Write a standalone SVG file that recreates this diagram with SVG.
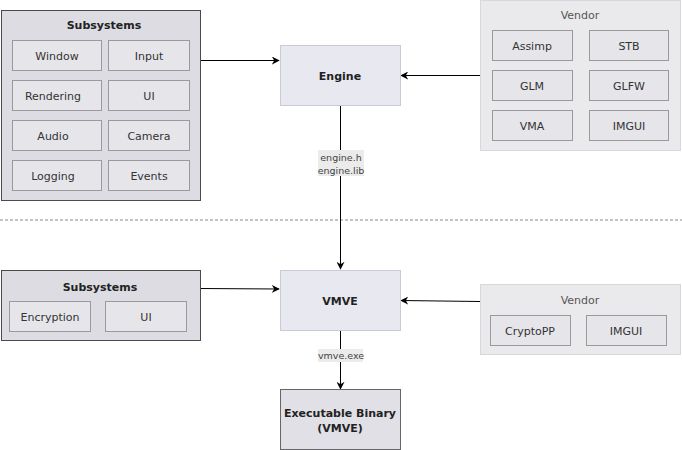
<svg xmlns="http://www.w3.org/2000/svg" width="682" height="450" viewBox="0 0 682 450">
<defs>
<marker id="arr" viewBox="0 0 10 10" refX="9" refY="5" markerWidth="8" markerHeight="8" markerUnits="userSpaceOnUse" orient="auto">
<path d="M0,0 L10,5 L0,10 L3,5 Z" fill="#000"/>
</marker>
<style>
text{font-family:"DejaVu Sans","Liberation Sans",sans-serif;text-anchor:middle;dominant-baseline:central;}
.cont{fill:#dcdce2;stroke:#4a4a4a;stroke-width:1;}
.vend{fill:#eaeaec;stroke:#d8d8dc;stroke-width:1;}
.item{fill:#e6e6ea;stroke:#9a9a9e;stroke-width:1;}
.main{fill:#e8e8f0;stroke:#cacad6;stroke-width:1;}
.exe{fill:#e0e0e6;stroke:#666;stroke-width:1;}
.t{font-size:11px;fill:#333;}
.tg{font-size:11px;fill:#555;}
.b{font-size:11px;font-weight:bold;fill:#222;}
.lbl{font-size:9.5px;fill:#444;}
.lblbg{fill:#ebebeb;}
.edge{fill:none;stroke:#000;stroke-width:1;marker-end:url(#arr);}
</style>
</defs>
<rect width="682" height="450" fill="#fff"/>
<line x1="0" y1="220" x2="682" y2="220" stroke="#888" stroke-width="1" stroke-dasharray="3,2"/>
<g id="connectors">
<path class="edge" d="M200.5,60.5 L279,60.5"/>
<path class="edge" d="M480,75.5 L401,75.5"/>
<path class="edge" d="M340.5,105 L340.5,269"/>
<path class="edge" d="M200.5,288.5 L279,289"/>
<path class="edge" d="M480,301.5 L401,300.5"/>
<path class="edge" d="M340.5,330 L340.5,389"/>
<rect class="lblbg" x="318" y="150" width="46" height="26"/>
<text class="lbl" x="341" y="157">engine.h</text>
<text class="lbl" x="341" y="170">engine.lib</text>
<rect class="lblbg" x="318" y="349" width="45" height="13"/>
<text class="lbl" x="341" y="355">vmve.exe</text>
</g>
<g id="subsystems-top">
<rect class="cont" x="1.5" y="10.5" width="199" height="190"/>
<text class="b" x="104" y="25">Subsystems</text>
<rect class="item" x="12.5" y="40.5" width="89" height="30"/><text class="t" x="57" y="56">Window</text>
<rect class="item" x="108.5" y="40.5" width="81" height="30"/><text class="t" x="149" y="56">Input</text>
<rect class="item" x="12.5" y="80.5" width="89" height="30"/><text class="t" x="53" y="96">Rendering</text>
<rect class="item" x="108.5" y="80.5" width="81" height="30"/><text class="t" x="149" y="96">UI</text>
<rect class="item" x="12.5" y="120.5" width="89" height="30"/><text class="t" x="53" y="136">Audio</text>
<rect class="item" x="108.5" y="120.5" width="81" height="30"/><text class="t" x="149" y="136">Camera</text>
<rect class="item" x="12.5" y="160.5" width="89" height="30"/><text class="t" x="53" y="176">Logging</text>
<rect class="item" x="108.5" y="160.5" width="81" height="30"/><text class="t" x="149" y="176">Events</text>
</g>
<g id="engine">
<rect class="main" x="280.5" y="45.5" width="120" height="60"/>
<text class="b" x="340" y="76">Engine</text>
</g>
<g id="vendor-top">
<rect class="vend" x="480.5" y="0.5" width="200" height="150"/>
<text class="tg" x="580" y="15">Vendor</text>
<rect class="item" x="492.5" y="30.5" width="80" height="30"/><text class="t" x="532" y="46">Assimp</text>
<rect class="item" x="589.5" y="30.5" width="79" height="30"/><text class="t" x="629" y="46">STB</text>
<rect class="item" x="492.5" y="70.5" width="80" height="30"/><text class="t" x="532" y="86">GLM</text>
<rect class="item" x="589.5" y="70.5" width="79" height="30"/><text class="t" x="629" y="86">GLFW</text>
<rect class="item" x="492.5" y="110.5" width="80" height="30"/><text class="t" x="532" y="126">VMA</text>
<rect class="item" x="589.5" y="110.5" width="79" height="30"/><text class="t" x="629" y="126">IMGUI</text>
</g>
<g id="subsystems-bottom">
<rect class="cont" x="1.5" y="270.5" width="199" height="70"/>
<text class="b" x="100" y="287">Subsystems</text>
<rect class="item" x="9.5" y="301.5" width="81" height="30"/><text class="t" x="50" y="317">Encryption</text>
<rect class="item" x="105.5" y="301.5" width="81" height="30"/><text class="t" x="146" y="317">UI</text>
</g>
<g id="vmve">
<rect class="main" x="280.5" y="270.5" width="120" height="60"/>
<text class="b" x="340" y="301">VMVE</text>
</g>
<g id="vendor-bottom">
<rect class="vend" x="480.5" y="284.5" width="200" height="70"/>
<text class="tg" x="580" y="300">Vendor</text>
<rect class="item" x="490.5" y="315.5" width="80" height="30"/><text class="t" x="530" y="331">CryptoPP</text>
<rect class="item" x="586.5" y="315.5" width="80" height="30"/><text class="t" x="626" y="331">IMGUI</text>
</g>
<g id="executable">
<rect class="exe" x="280.5" y="389.5" width="120" height="60"/>
<text class="b" x="340" y="413">Executable Binary</text>
<text class="b" x="340" y="428">(VMVE)</text>
</g>
</svg>
